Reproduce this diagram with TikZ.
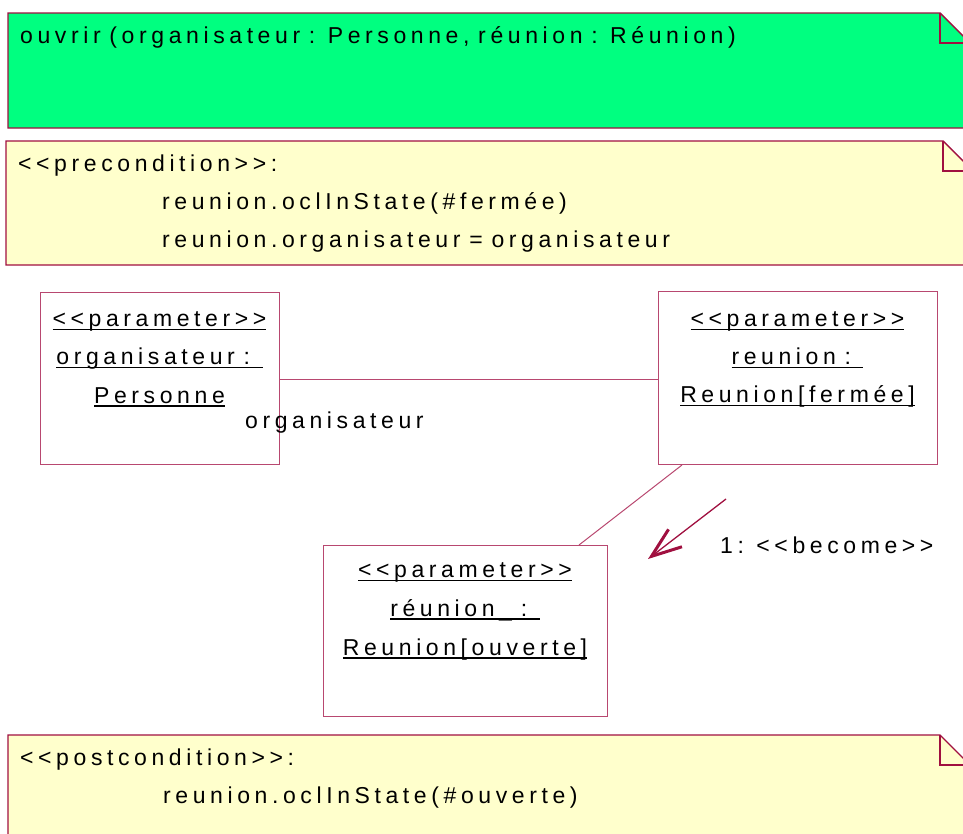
\documentclass[tikz,border=0pt]{standalone}
\usepackage{fontspec}
\setmainfont[LetterSpace=20, WordSpace=0.8, Ligatures=TeXOff]{Liberation Sans}
\usetikzlibrary{arrows.meta,calc}

\definecolor{notegreen}{HTML}{00FF80}
\definecolor{noteyellow}{HTML}{FFFFCC}
\definecolor{umlred}{HTML}{A01040}
\definecolor{boxline}{HTML}{B84870}

% underline drawn as a rule of fixed depth and thickness
\newcommand\ulined[1]{\setbox0\hbox{#1}\rlap{\rule[-3.6pt]{\wd0}{1.3pt}}\box0}

\begin{document}
\begin{tikzpicture}[x=1pt,y=-1pt,
  every node/.style={font=\fontsize{23}{27}\selectfont, inner sep=0pt, text=black},
  txt/.style={anchor=base west},
  ctxt/.style={anchor=base},
  note/.style={draw=umlred, line width=1.4pt, line join=miter},
  param/.style={draw=boxline, line width=1pt, fill=white, anchor=north west},
  assoc/.style={draw=boxline, line width=1pt},
  become/.style={draw=umlred, line width=1.3pt,
    -{Straight Barb[length=30pt,width=22pt,line width=3pt]}}]

\useasboundingbox (0,0) rectangle (963,833);
\clip (0,0) rectangle (963,833);

% operation note
\draw[note, fill=notegreen] (8,13) -- (940,13) -- (970,43) -- (970,128) -- (8,128) -- cycle;
\draw[note] (940,13) |- (970,43);
\node[txt] (op) at (20,43) {ouvrir (organisateur : Personne, réunion : Réunion)};

% precondition note
\draw[note, fill=noteyellow] (6,141) -- (943,141) -- (973,171) -- (973,265) -- (6,265) -- cycle;
\draw[note] (943,141) |- (973,171);
\node[txt] (pre) at (18,171) {<<precondition>>:};
\node[txt] (pre1) at (162,209) {reunion.oclInState(\#fermée)};
\node[txt] (pre2) at (162,247) {reunion.organisateur = organisateur};

% parameter objects
\node[param, minimum width=239pt, minimum height=172pt] (b1) at (40,292) {};
\node[param, minimum width=279pt, minimum height=173pt] (b2) at (658,291) {};
\node[param, minimum width=284pt, minimum height=171pt] (b3) at (323,545) {};

\node[ctxt] (b1a) at (159.5,326.5) {\ulined{<<parameter>>}};
\node[ctxt] (b1b) at (159.5,364.5) {\ulined{organisateur : }};
\node[ctxt] (b1c) at (159.5,403) {\ulined{Personne}};

\node[ctxt] (b2a) at (797.5,326.5) {\ulined{<<parameter>>}};
\node[ctxt] (b2b) at (797.5,364.5) {\ulined{reunion : }};
\node[ctxt] (b2c) at (797.5,402.5) {\ulined{Reunion[fermée]}};

\node[ctxt] (b3a) at (465,577.5) {\ulined{<<parameter>>}};
\node[ctxt] (b3b) at (465,616) {\ulined{réunion\_ : }};
\node[ctxt] (b3c) at (465,655) {\ulined{Reunion[ouverte]}};

% links
\draw[assoc] (b1.east) ++(0,1) coordinate (l1) -- (l1 -| b2.west);
\node[txt] (role) at (245,428) {organisateur};
\draw[assoc] ($(b2.south west)+(24,0)$) -- ($(b3.north east)+(-29,0)$);

% message
\coordinate (ms) at (726,499);
\coordinate (mt) at (648,559);
\draw[become] (ms) -- (mt);
\node[txt] (msg) at (720,553) {1: <<become>>};

% postcondition note
\draw[note, fill=noteyellow] (8,735) -- (940,735) -- (970,765) -- (970,860) -- (8,860) -- cycle;
\draw[note] (940,735) |- (970,765);
\node[txt] (post) at (20,765) {<<postcondition>>:};
\node[txt] (post1) at (163,803) {reunion.oclInState(\#ouverte)};
\end{tikzpicture}
\end{document}
